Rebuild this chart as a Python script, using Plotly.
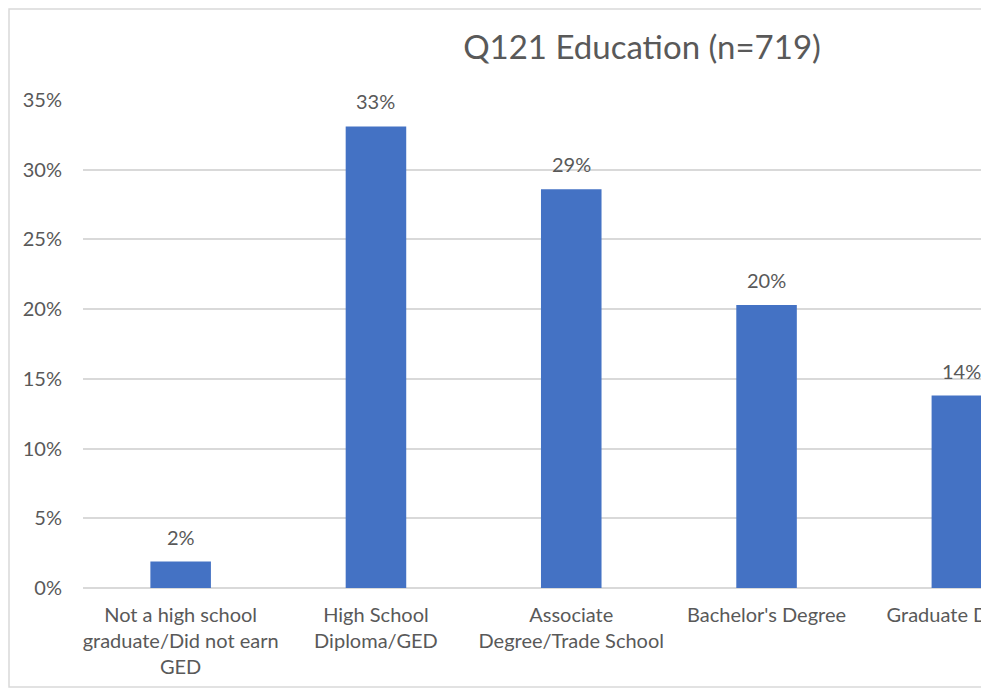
import plotly.graph_objects as go

categories = ["Not a high school<br>graduate/Did not earn<br>GED", "High School<br>Diploma/GED",
              "Associate<br>Degree/Trade School", "Bachelor's Degree", "Graduate Degree"]
shares = [0.019, 0.331, 0.286, 0.203, 0.138]
y_ticks = [0, 0.05, 0.10, 0.15, 0.20, 0.25, 0.30, 0.35]

FONT = "Lato"
GREY = "#595959"

fig = go.Figure()
fig.add_trace(go.Bar(x=list(range(len(categories))), y=shares, marker_color="#4472C4",
                     marker_line_width=0, width=0.31, hoverinfo="skip"))

# data labels above bars
for i, v in enumerate(shares):
    fig.add_annotation(x=i, y=v, text=f"{v:.0%}", showarrow=False, yanchor="bottom",
                       yshift=11, font=dict(family=FONT, size=20, color=GREY))

# light chart border (right side is cut off in the picture)
fig.add_shape(type="rect", xref="paper", yref="paper", x0=-0.0824, x1=1.2,
              y0=-0.2029, y1=1.1865, line=dict(color="#D9D9D9", width=1.5), layer="below")

fig.update_layout(
    width=973, height=680,
    margin=dict(l=75, r=0, t=92, b=100, autoexpand=False),
    plot_bgcolor="white", paper_bgcolor="white",
    showlegend=False,
    font=dict(family=FONT, size=20, color=GREY),
    title=dict(text="Q121 Education (n=719)", x=0.6225, xref="paper", xanchor="center",
               y=1 - 39 / 680, yref="container", yanchor="middle",
               font=dict(family=FONT, size=33, color=GREY)),
)
fig.update_xaxes(range=[-0.5, 4.098], tickvals=list(range(len(categories))), ticktext=categories,
                 showgrid=False, showline=False, zeroline=False, ticks="", ticklabelstandoff=13,
                 ticklabeloverflow="allow", tickangle=0, automargin=False,
                 tickfont=dict(family=FONT, size=20, color=GREY))
fig.update_yaxes(range=[0, 0.35], tickvals=y_ticks, tickformat=".0%", showgrid=True,
                 gridcolor="#D9D9D9", gridwidth=1.5, zeroline=True, zerolinecolor="#D9D9D9",
                 zerolinewidth=1.5, showline=False, ticks="", ticklabelstandoff=20,
                 automargin=False, tickfont=dict(family=FONT, size=20, color=GREY))

fig.write_html("out.html")
